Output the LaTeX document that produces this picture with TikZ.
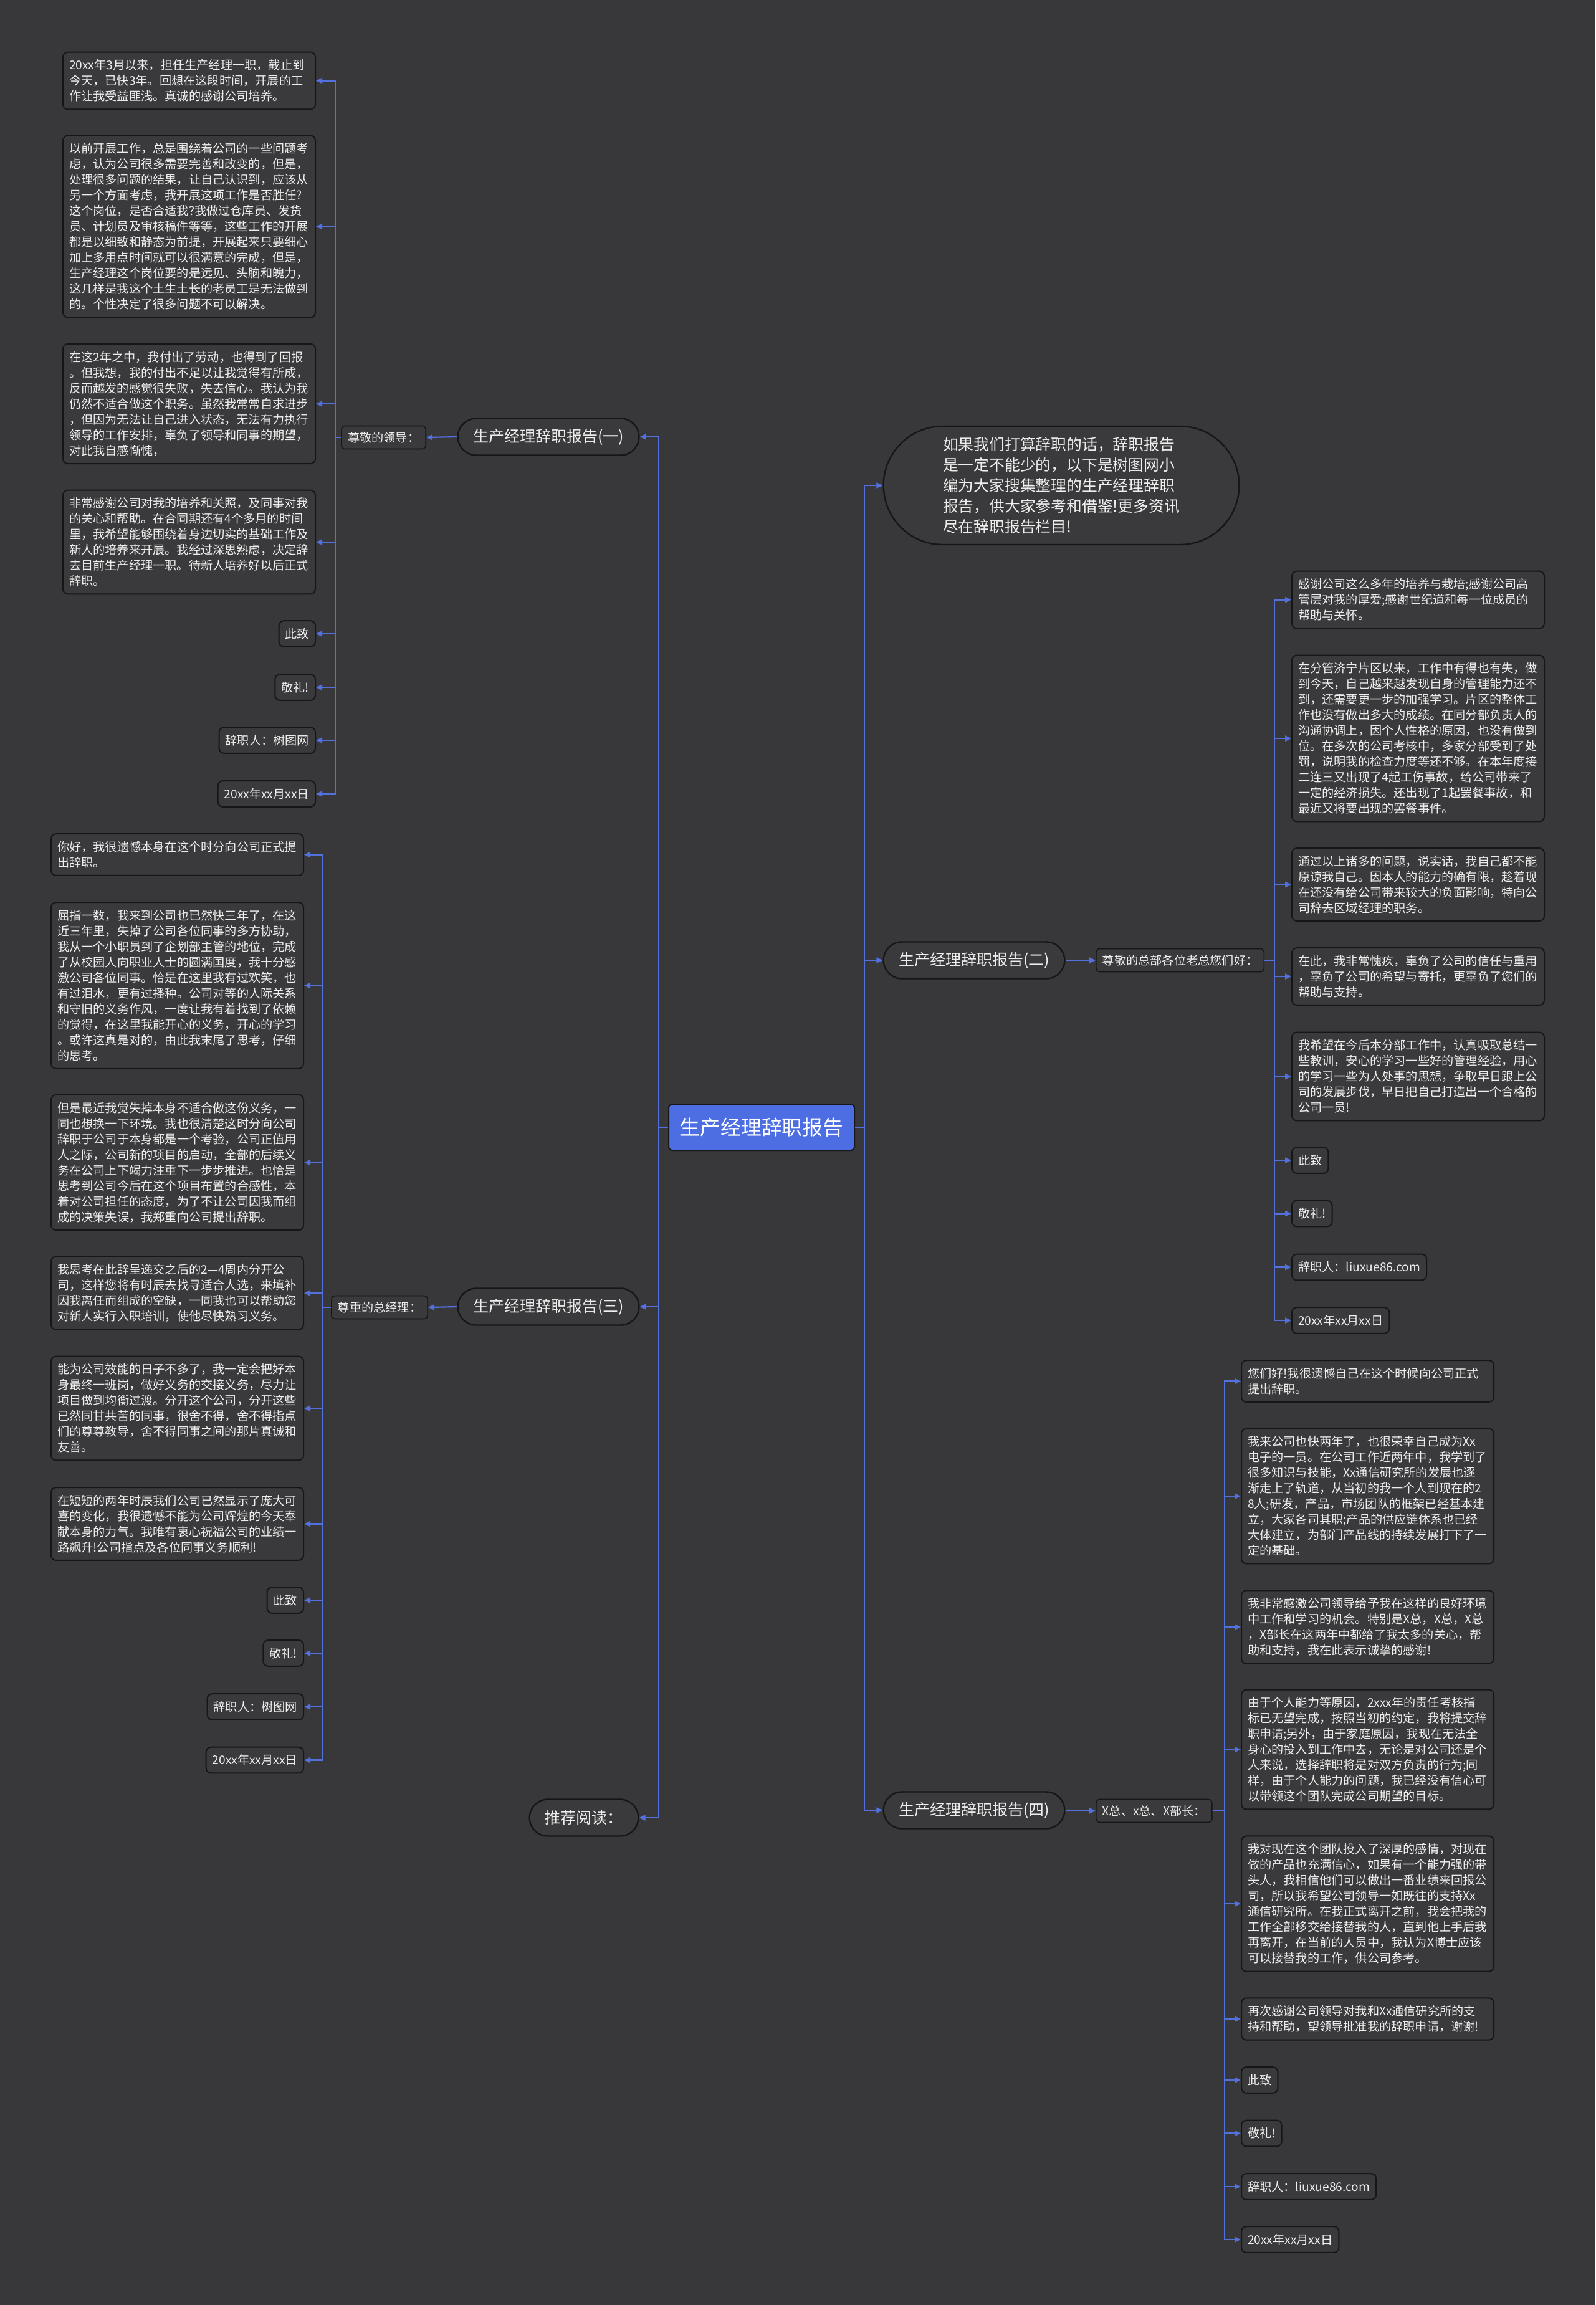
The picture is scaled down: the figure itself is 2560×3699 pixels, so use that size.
\documentclass[tikz,border=0pt]{standalone}
\usepackage{fontspec}
\setmainfont{Noto Sans CJK SC}
\usetikzlibrary{arrows.meta,shapes.misc}
\definecolor{bg}{RGB}{56,55,57}
\definecolor{boxfill}{RGB}{58,57,59}
\definecolor{bord}{RGB}{22,22,22}
\definecolor{fg}{RGB}{238,238,238}
\definecolor{lblue}{RGB}{82,112,222}
\definecolor{cblue}{RGB}{76,110,226}
\tikzset{
  txt/.style={draw=bord, line width=1pt, fill=boxfill, rounded corners=4pt, text=fg,
    font=\fontsize{9.6pt}{12.5pt}\selectfont, align=left, inner xsep=5pt, inner ysep=6pt},
  wide/.style={txt, text width=192.5pt},
  lab/.style={draw=bord, line width=0.8pt, fill=boxfill, rounded corners=3pt, text=fg,
    font=\fontsize{9.6pt}{11pt}\selectfont, inner xsep=5pt, minimum height=18.5pt},
  branch/.style={rounded rectangle, draw=bord, line width=1.2pt, fill=boxfill, text=fg,
    font=\fontsize{12.5pt}{14pt}\selectfont, minimum width=152pt, minimum height=29.5pt},
  rootnode/.style={draw=bord, line width=1pt, fill=cblue, rounded corners=3pt, text=white,
    font=\fontsize{16.4pt}{18pt}\selectfont, minimum width=149pt, minimum height=37pt},
  conn/.style={draw=lblue, line width=1.1pt, -{Triangle[length=5pt,width=4.5pt]}},
}
\begin{document}
\begin{tikzpicture}[x=0.5pt,y=-0.5pt]
\fill[bg] (0,0) rectangle (2560,3699);
\useasboundingbox (0,0) rectangle (2560,3699);

% root and branches
\node[rootnode] (root) at (1222,1809) {生产经理辞职报告};
\node[branch] (n1) at (880,701) {生产经理辞职报告(一)};
\node[branch] (n3) at (880,2097) {生产经理辞职报告(三)};
\node[branch, minimum width=94pt] (n5) at (937,2917) {推荐阅读：};
\node[branch] (n2) at (1563,1541) {生产经理辞职报告(二)};
\node[branch] (n4) at (1563,2905) {生产经理辞职报告(四)};
\node[rounded rectangle, draw=bord, line width=1.2pt, fill=boxfill, text=fg, align=left,
  font=\fontsize{12.4pt}{16.5pt}\selectfont, minimum width=292pt, minimum height=95pt]
  (intro) at (1703,779) {如果我们打算辞职的话，辞职报告\\是一定不能少的，以下是树图网小\\编为大家搜集整理的生产经理辞职\\报告，供大家参考和借鉴!更多资讯\\尽在辞职报告栏目!};

% labels
\node[lab, anchor=east] (l1) at (684,702) {尊敬的领导：};
\node[lab, anchor=east] (l3) at (687,2098) {尊重的总经理：};
\node[lab, anchor=west] (l2) at (1758,1541) {尊敬的总部各位老总您们好：};
\node[lab, anchor=west] (l4) at (1758,2906) {X总、x总、X部长：};

% spine coordinates
\coordinate (tl) at (1057,1809);
\coordinate (tr) at (1387,1809);
\coordinate (s1) at (538,702);
\coordinate (s3) at (517,2098);
\coordinate (s2) at (2045,1541);
\coordinate (s4) at (1965,2906);

% section one
\node[wide, anchor=east] (a1) at (507,129.5) {20xx年3月以来，担任生产经理一职，截止到\\今天，已快3年。回想在这段时间，开展的工\\作让我受益匪浅。真诚的感谢公司培养。};
\node[wide, anchor=east] (a2) at (507,363.5) {以前开展工作，总是围绕着公司的一些问题考\\虑，认为公司很多需要完善和改变的，但是，\\处理很多问题的结果，让自己认识到，应该从\\另一个方面考虑，我开展这项工作是否胜任?\\这个岗位，是否合适我?我做过仓库员、发货\\员、计划员及审核稿件等等，这些工作的开展\\都是以细致和静态为前提，开展起来只要细心\\加上多用点时间就可以很满意的完成，但是，\\生产经理这个岗位要的是远见、头脑和魄力，\\这几样是我这个土生土长的老员工是无法做到\\的。个性决定了很多问题不可以解决。};
\node[wide, anchor=east] (a3) at (507,648) {在这2年之中，我付出了劳动，也得到了回报\\。但我想，我的付出不足以让我觉得有所成，\\反而越发的感觉很失败，失去信心。我认为我\\仍然不适合做这个职务。虽然我常常自求进步\\，但因为无法让自己进入状态，无法有力执行\\领导的工作安排，辜负了领导和同事的期望，\\对此我自感惭愧，};
\node[wide, anchor=east] (a4) at (507,870) {非常感谢公司对我的培养和关照，及同事对我\\的关心和帮助。在合同期还有4个多月的时间\\里，我希望能够围绕着身边切实的基础工作及\\新人的培养来开展。我经过深思熟虑，决定辞\\去目前生产经理一职。待新人培养好以后正式\\辞职。};
\node[txt, anchor=east] (a5) at (507,1017) {此致};
\node[txt, anchor=east] (a6) at (507,1103) {敬礼!};
\node[txt, anchor=east] (a7) at (507,1188) {辞职人：树图网};
\node[txt, anchor=east] (a8) at (507,1274) {20xx年xx月xx日};

% section three
\node[wide, anchor=east] (b1) at (488,1371.5) {你好，我很遗憾本身在这个时分向公司正式提\\出辞职。};
\node[wide, anchor=east] (b2) at (488,1581.5) {屈指一数，我来到公司也已然快三年了，在这\\近三年里，失掉了公司各位同事的多方协助，\\我从一个小职员到了企划部主管的地位，完成\\了从校园人向职业人士的圆满国度，我十分感\\激公司各位同事。恰是在这里我有过欢笑，也\\有过泪水，更有过播种。公司对等的人际关系\\和守旧的义务作风，一度让我有着找到了依赖\\的觉得，在这里我能开心的义务，开心的学习\\。或许这真是对的，由此我末尾了思考，仔细\\的思考。};
\node[wide, anchor=east] (b3) at (488,1865.5) {但是最近我觉失掉本身不适合做这份义务，一\\同也想换一下环境。我也很清楚这时分向公司\\辞职于公司于本身都是一个考验，公司正值用\\人之际，公司新的项目的启动，全部的后续义\\务在公司上下竭力注重下一步步推进。也恰是\\思考到公司今后在这个项目布置的合感性，本\\着对公司担任的态度，为了不让公司因我而组\\成的决策失误，我郑重向公司提出辞职。};
\node[wide, anchor=east] (b4) at (488,2075) {我思考在此辞呈递交之后的2—4周内分开公\\司，这样您将有时辰去找寻适合人选，来填补\\因我离任而组成的空缺，一同我也可以帮助您\\对新人实行入职培训，使他尽快熟习义务。};
\node[wide, anchor=east] (b5) at (488,2260) {能为公司效能的日子不多了，我一定会把好本\\身最终一班岗，做好义务的交接义务，尽力让\\项目做到均衡过渡。分开这个公司，分开这些\\已然同甘共苦的同事，很舍不得，舍不得指点\\们的尊尊教导，舍不得同事之间的那片真诚和\\友善。};
\node[wide, anchor=east] (b6) at (488,2445.5) {在短短的两年时辰我们公司已然显示了庞大可\\喜的变化，我很遗憾不能为公司辉煌的今天奉\\献本身的力气。我唯有衷心祝福公司的业绩一\\路飙升!公司指点及各位同事义务顺利!};
\node[txt, anchor=east] (b7) at (488,2568) {此致};
\node[txt, anchor=east] (b8) at (488,2653) {敬礼!};
\node[txt, anchor=east] (b9) at (488,2739) {辞职人：树图网};
\node[txt, anchor=east] (b10) at (488,2824.5) {20xx年xx月xx日};

% section two
\node[wide, anchor=west] (c1) at (2072,962.5) {感谢公司这么多年的培养与栽培;感谢公司高\\管层对我的厚爱;感谢世纪道和每一位成员的\\帮助与关怀。};
\node[wide, anchor=west] (c2) at (2072,1185) {在分管济宁片区以来，工作中有得也有失，做\\到今天，自己越来越发现自身的管理能力还不\\到，还需要更一步的加强学习。片区的整体工\\作也没有做出多大的成绩。在同分部负责人的\\沟通协调上，因个人性格的原因，也没有做到\\位。在多次的公司考核中，多家分部受到了处\\罚，说明我的检查力度等还不够。在本年度接\\二连三又出现了4起工伤事故，给公司带来了\\一定的经济损失。还出现了1起罢餐事故，和\\最近又将要出现的罢餐事件。};
\node[wide, anchor=west] (c3) at (2072,1419.5) {通过以上诸多的问题，说实话，我自己都不能\\原谅我自己。因本人的能力的确有限，趁着现\\在还没有给公司带来较大的负面影响，特向公\\司辞去区域经理的职务。};
\node[wide, anchor=west] (c4) at (2072,1567) {在此，我非常愧疚，辜负了公司的信任与重用\\，辜负了公司的希望与寄托，更辜负了您们的\\帮助与支持。};
\node[wide, anchor=west] (c5) at (2072,1727.5) {我希望在今后本分部工作中，认真吸取总结一\\些教训，安心的学习一些好的管理经验，用心\\的学习一些为人处事的思想，争取早日跟上公\\司的发展步伐，早日把自己打造出一个合格的\\公司一员!};
\node[txt, anchor=west] (c6) at (2072,1862) {此致};
\node[txt, anchor=west] (c7) at (2072,1947.5) {敬礼!};
\node[txt, anchor=west] (c8) at (2072,2033.5) {辞职人：liuxue86.com};
\node[txt, anchor=west] (c9) at (2072,2119) {20xx年xx月xx日};

% section four
\node[wide, anchor=west] (d1) at (1991,2216.5) {您们好!我很遗憾自己在这个时候向公司正式\\提出辞职。};
\node[wide, anchor=west] (d2) at (1991,2401) {我来公司也快两年了，也很荣幸自己成为Xx\\电子的一员。在公司工作近两年中，我学到了\\很多知识与技能，Xx通信研究所的发展也逐\\渐走上了轨道，从当初的我一个人到现在的2\\8人;研发，产品，市场团队的框架已经基本建\\立，大家各司其职;产品的供应链体系也已经\\大体建立，为部门产品线的持续发展打下了一\\定的基础。};
\node[wide, anchor=west] (d3) at (1991,2611) {我非常感激公司领导给予我在这样的良好环境\\中工作和学习的机会。特别是X总，X总，X总\\，X部长在这两年中都给了我太多的关心，帮\\助和支持，我在此表示诚挚的感谢!};
\node[wide, anchor=west] (d4) at (1991,2807.5) {由于个人能力等原因，2xxx年的责任考核指\\标已无望完成，按照当初的约定，我将提交辞\\职申请;另外，由于家庭原因，我现在无法全\\身心的投入到工作中去，无论是对公司还是个\\人来说，选择辞职将是对双方负责的行为;同\\样，由于个人能力的问题，我已经没有信心可\\以带领这个团队完成公司期望的目标。};
\node[wide, anchor=west] (d5) at (1991,3055) {我对现在这个团队投入了深厚的感情，对现在\\做的产品也充满信心，如果有一个能力强的带\\头人，我相信他们可以做出一番业绩来回报公\\司，所以我希望公司领导一如既往的支持Xx\\通信研究所。在我正式离开之前，我会把我的\\工作全部移交给接替我的人，直到他上手后我\\再离开，在当前的人员中，我认为X博士应该\\可以接替我的工作，供公司参考。};
\node[wide, anchor=west] (d6) at (1991,3240) {再次感谢公司领导对我和Xx通信研究所的支\\持和帮助，望领导批准我的辞职申请，谢谢!};
\node[txt, anchor=west] (d7) at (1991,3338) {此致};
\node[txt, anchor=west] (d8) at (1991,3423.5) {敬礼!};
\node[txt, anchor=west] (d9) at (1991,3509) {辞职人：liuxue86.com};
\node[txt, anchor=west] (d10) at (1991,3594) {20xx年xx月xx日};

% connectors: root to branches
\foreach \t in {n1,n3,n5} {\draw[conn] (root.west) -- (tl) |- (\t.east);}
\foreach \t in {intro,n2,n4} {\draw[conn] (root.east) -- (tr) |- (\t.west);}
% branches to labels
\draw[conn] (n1.west) -- (l1.east);
\draw[conn] (n3.west) -- (l3.east);
\draw[conn] (n2.east) -- (l2.west);
\draw[conn] (n4.east) -- (l4.west);
% labels to leaves
\foreach \i in {1,...,8} {\draw[conn] (l1.west) -- (s1) |- (a\i.east);}
\foreach \i in {1,...,10} {\draw[conn] (l3.west) -- (s3) |- (b\i.east);}
\foreach \i in {1,...,9} {\draw[conn] (l2.east) -- (s2) |- (c\i.west);}
\foreach \i in {1,...,10} {\draw[conn] (l4.east) -- (s4) |- (d\i.west);}
\end{tikzpicture}
\end{document}
